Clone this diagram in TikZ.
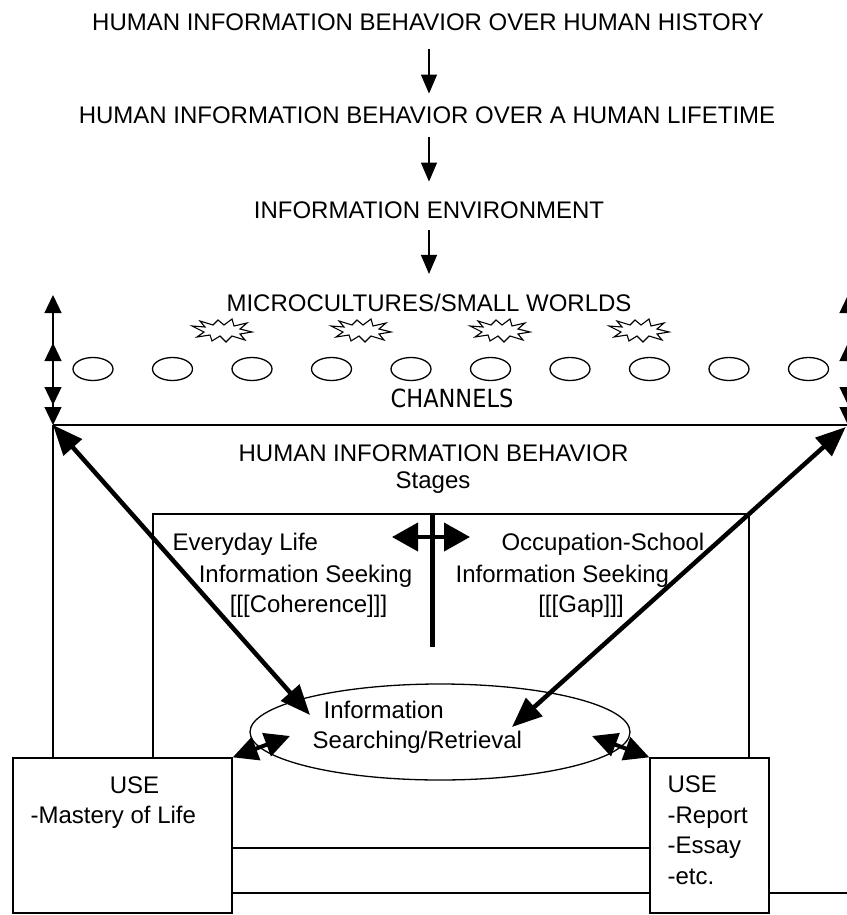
\documentclass[tikz,border=0pt]{standalone}
\usepackage{fontspec}
\setmainfont{Liberation Sans}
\newfontfamily\chanfont{DejaVu Sans Condensed}
\usetikzlibrary{arrows.meta,shapes.geometric}

\tikzset{
  txt/.style={inner sep=0pt, font=\fontsize{24}{30.5}\selectfont},
  chantxt/.style={inner sep=0pt, font=\chanfont\fontsize{25}{30}\selectfont},
  channel/.style={ellipse, draw, line width=1.3pt, inner sep=0pt,
    minimum width=40pt, minimum height=23pt},
  usebox/.style={draw, line width=1.3pt, inner sep=0pt, minimum height=155pt},
  flow/.style={line width=1.3pt, -{Triangle[length=19pt,width=16pt]}},
  tick/.style={line width=1.3pt,
    {Triangle[length=18pt,width=17pt]}-{Triangle[length=18pt,width=17pt]}},
  fork/.style={line width=4pt,
    {Triangle[length=26pt,width=28pt]}-{Triangle[length=26pt,width=28pt]}},
  heavy/.style={line width=4.5pt,
    {Triangle[length=30pt,width=24pt]}-{Triangle[length=30pt,width=24pt]}},
  link/.style={line width=4pt,
    {Triangle[length=25pt,width=24pt]}-{Triangle[length=25pt,width=24pt]}},
  burst/.pic={
    \draw[line width=1.1pt, line join=miter]
      (-30,-5) -- (-17,-4) -- (-22,-10) -- (-9,-6) -- (-4,-11) -- (2,-6)
      -- (10,-12) -- (12,-5) -- (25,-8) -- (18,-2) -- (30,1) -- (18,3)
      -- (23,9) -- (10,5) -- (4,11) -- (-2,5) -- (-10,10) -- (-12,4)
      -- (-25,6) -- (-18,1) -- cycle;
  }
}

\begin{document}
\begin{tikzpicture}[x=1pt, y=-1pt, line width=1.3pt]
  \useasboundingbox (0,0) rectangle (846,915);

  % levels
  \node[txt, anchor=base] (hist)  at (428,31)  {HUMAN INFORMATION BEHAVIOR OVER HUMAN HISTORY};
  \node[txt, anchor=base] (life)  at (427,124) {HUMAN INFORMATION BEHAVIOR OVER A HUMAN LIFETIME};
  \node[txt, anchor=base] (env)   at (429,218) {INFORMATION ENVIRONMENT};
  \node[txt, anchor=base] (micro) at (429,311) {MICROCULTURES/SMALL WORLDS};
  \draw[flow, shorten <=17pt, shorten >=13pt] (hist.south -| env) -- (life.north -| env);
  \draw[flow, shorten <=12pt, shorten >=19pt] (life.south -| env) -- (env.north -| env);
  \draw[flow, shorten <=11pt, shorten >=19pt] (env.south -| env)  -- (micro.north -| env);

  % small worlds and channels
  \foreach \cx in {222,361,500,639}
    \pic at (\cx,331) {burst};
  \foreach \i in {1,...,10}
    \node[channel] (ch\i) at ({93+79.5*(\i-1)},369) {};
  \node[chantxt, anchor=base] (chan) at (452,407) {CHANNELS};

  % outer frame
  \coordinate (ltop) at (53,425);
  \coordinate (rtop) at (848,425);
  \coordinate (lhi)  at (53,295);
  \coordinate (lmid) at (53,343);
  \coordinate (llo)  at (53,405);
  \coordinate (rhi)  at (848,295);
  \coordinate (rmid) at (848,343);
  \coordinate (rlo)  at (848,405);
  \draw (ltop) -- (rtop);
  \draw[tick] (lhi) -- (ltop);
  \draw[tick] (lmid) -- (llo);
  \draw[tick] (rhi) -- (rtop);
  \draw[tick] (rmid) -- (rlo);

  \node[txt, anchor=base] (hib)    at (433.5,461) {HUMAN INFORMATION BEHAVIOR};
  \node[txt, anchor=base] (stages) at (433,488)   {Stages};

  % stages
  \coordinate (stl) at (153,514);
  \coordinate (str) at (749,514);
  \coordinate (split)    at (432,514);
  \coordinate (splitend) at (432,647);
  \coordinate (ela) at (392,537);
  \coordinate (occ) at (470,537);
  \draw[line width=5pt] (split) -- (splitend);
  \draw[fork] (ela) -- (occ);

  \node[txt, anchor=base west] (ev1) at (172,550)   {Everyday Life};
  \node[txt, anchor=base]      (ev2) at (305.5,582) {Information Seeking};
  \node[txt, anchor=base]      (ev3) at (308.5,612) {[[[Coherence]]]};
  \node[txt, anchor=base east] (oc1) at (705,550)   {Occupation-School};
  \node[txt, anchor=base west] (oc2) at (455,582)   {Information Seeking};
  \node[txt, anchor=base]      (oc3) at (581,612)   {[[[Gap]]]};

  % searching / retrieval
  \node[ellipse, draw, line width=1.3pt, inner sep=0pt,
        minimum width=380pt, minimum height=96pt] (isr) at (440,732) {};
  \node[txt, anchor=base west] (isr1) at (323,718) {Information};
  \node[txt, anchor=base west] (isr2) at (312,748) {Searching/Retrieval};

  % use
  \node[usebox, minimum width=219pt] (uselife)   at (122.5,835.5) {};
  \node[usebox, minimum width=119pt] (useschool) at (709.5,835.5) {};
  \node[txt, anchor=base]      (ul1) at (134.5,793) {USE};
  \node[txt, anchor=base west] (ul2) at (30,823)    {-Mastery of Life};
  \node[txt, anchor=north west, align=left] (us) at (667,775.5)
    {USE\\-Report\\-Essay\\-etc.};

  \draw (ltop) -- (ltop |- uselife.north);
  \draw (uselife.north -| stl) -- (stl) -- (str) -- (str |- useschool.north);
  \draw (uselife.east |- 0,848) -- (useschool.west |- 0,848);
  \draw (uselife.east |- 0,893) -- (useschool.west |- 0,893);
  \draw (useschool.east |- 0,893) -- (848,893) -- (rtop);

  \coordinate (isrnw) at (310,715);
  \coordinate (isrne) at (512,727);
  \coordinate (isrw)  at (290,736);
  \coordinate (isre)  at (592,736);
  \draw[heavy] (ltop) -- (isrnw);
  \draw[heavy, shorten <=3pt] (rtop) -- (isrne);
  \draw[link] (uselife.north east) -- (isrw);
  \draw[link] (useschool.north west) -- (isre);
\end{tikzpicture}
\end{document}
